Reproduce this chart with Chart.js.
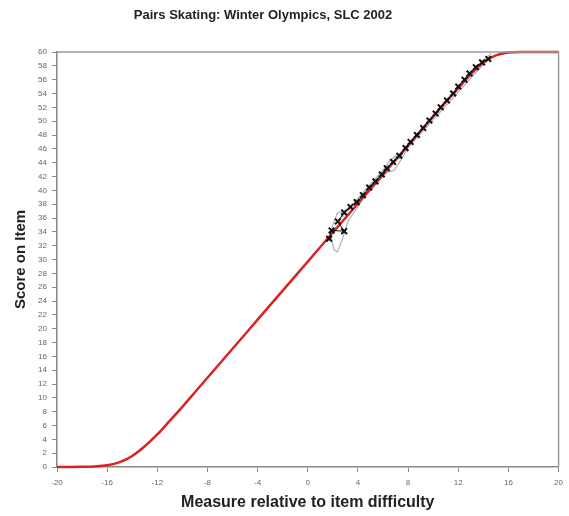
<!DOCTYPE html>
<html>
<head>
<meta charset="utf-8">
<script src="https://cdn.jsdelivr.net/npm/chart.js@4/dist/chart.umd.min.js"></script>
<style>
html,body{margin:0;padding:0;background:#fff;}
#wrap{width:569px;height:516px;position:relative;}
</style>
</head>
<body>
<div id="wrap"><canvas id="c" width="569" height="516"></canvas></div>
<script>
// ---- data ----
const chartTitle = "Pairs Skating: Winter Olympics, SLC 2002";
const xTitle = "Measure relative to item difficulty";
const yTitle = "Score on Item";

// expected score curve (red)
const curveX = [-20,-19,-18,-17,-16,-15,-14,-13,-12,-11,-10,-9,-8,-7,-6,-5,-4,-3,-2,-1,0,1,2,3,4,5,6,7,8,9,10,11,12,13,14,15,16,17,18,19,20];
const curveY = [0,0,0.02,0.08,0.25,0.7,1.6,3.0,4.7,6.7,8.7,10.8,12.9,15.0,17.1,19.2,21.3,23.4,25.5,27.6,29.7,31.8,33.9,36.0,38.1,40.2,42.3,44.4,46.5,48.6,50.7,52.8,54.8,56.8,58.5,59.5,59.92,60,60,60,60];

// observed scores (black crosses)
const obsX = [1.7,1.9,2.9,2.4,2.9,3.4,3.9,4.4,4.9,5.4,5.9,6.3,6.8,7.3,7.8,8.2,8.7,9.2,9.7,10.2,10.6,11.1,11.6,12.0,12.5,12.9,13.4,13.9,14.4];
const obsY = [33.0,34.2,34.1,35.5,36.8,37.6,38.3,39.3,40.4,41.3,42.3,43.2,44.1,45.0,46.1,47.0,48.0,49.0,50.1,51.1,52.0,53.0,54.0,55.0,56.0,56.9,57.8,58.5,59.0];

// confidence bounds (gray)
const upX = [1.9,2.35,2.66,2.74,3.5,4.5,6.0,6.5,7.0,7.3,8.0,14.6];
const upY = [34.5,36.7,36.9,36.1,37.8,39.9,42.9,44.2,45.0,44.6,46.6,59.8];
const loX = [1.87,2.1,2.35,2.74,3.2,4.5,6.3,6.9,7.3,8.0,14.6];
const loY = [33.1,31.4,31.1,32.8,35.5,39.0,42.6,42.9,44.0,46.2,59.4];

const xTicks = [-20,-16,-12,-8,-4,0,4,8,12,16,20];

const pts = (xs, ys) => xs.map((x, i) => ({x: x, y: ys[i]}));

const framePlugin = {
  id: 'frame',
  afterDatasetsDraw(chart) {
    const {ctx, chartArea: a} = chart;
    ctx.save();
    ctx.strokeStyle = '#9a9a9a';
    ctx.lineWidth = 1.5;
    ctx.beginPath();
    ctx.moveTo(a.left, a.top);
    ctx.lineTo(a.right, a.top);
    ctx.lineTo(a.right, a.bottom);
    ctx.stroke();
    ctx.restore();
  },
  afterDraw(chart) {
    const ctx = chart.ctx;
    ctx.save();
    ctx.fillStyle = '#222';
    ctx.font = 'bold 13px "Liberation Sans", Arial, sans-serif';
    ctx.textAlign = 'center';
    ctx.textBaseline = 'middle';
    ctx.fillText(chartTitle, 263, 15);
    ctx.restore();
  }
};

new Chart(document.getElementById('c'), {
  type: 'scatter',
  data: {
    datasets: [
      {
        label: 'Observed',
        data: pts(obsX, obsY),
        showLine: true,
        borderColor: '#111',
        borderWidth: 1,
        pointStyle: 'crossRot',
        pointRadius: 4,
        pointBorderWidth: 2,
        pointBorderColor: '#111',
        order: 0
      },
      {
        label: 'Expected',
        data: pts(curveX, curveY),
        showLine: true,
        borderColor: '#dd2222',
        borderWidth: 2.5,
        pointRadius: 0,
        cubicInterpolationMode: 'monotone',
        clip: 4,
        order: 1
      },
      {
        label: 'Upper',
        data: pts(upX, upY),
        showLine: true,
        borderColor: '#a8b0b8',
        borderWidth: 1.2,
        pointRadius: 0,
        order: 2
      },
      {
        label: 'Lower',
        data: pts(loX, loY),
        showLine: true,
        borderColor: '#a8b0b8',
        borderWidth: 1.2,
        pointRadius: 0,
        order: 2
      }
    ]
  },
  options: {
    responsive: false,
    animation: false,
    layout: { padding: { top: 52, right: 9, bottom: 0, left: 0 } },
    plugins: {
      legend: { display: false },
      tooltip: { enabled: false },
      title: { display: false }
    },
    scales: {
      x: {
        type: 'linear',
        min: -20, max: 20,
        afterBuildTicks(scale) { scale.ticks = xTicks.map(v => ({value: v})); },
        afterFit(scale) { scale.height = 49; },
        grid: { display: true, drawOnChartArea: false, drawTicks: true, tickLength: 5, color: '#888', lineWidth: 1 },
        border: { display: true, color: '#888', width: 1.5 },
        ticks: { font: { size: 8, family: '"Liberation Sans", Arial, sans-serif' }, color: '#666', padding: 6, maxRotation: 0 },
        title: { display: true, text: xTitle, color: '#222', font: { size: 16, weight: 'bold', family: '"Liberation Sans", Arial, sans-serif' }, padding: { top: 0, bottom: 4 } }
      },
      y: {
        type: 'linear',
        min: 0, max: 60,
        ticks: { stepSize: 2, autoSkip: false, font: { size: 8, family: '"Liberation Sans", Arial, sans-serif' }, color: '#666', padding: 5 },
        afterFit(scale) { scale.width = 57; },
        grid: { display: true, drawOnChartArea: false, drawTicks: true, tickLength: 5, color: '#888', lineWidth: 1 },
        border: { display: true, color: '#888', width: 1.5 },
        title: { display: true, text: yTitle, color: '#222', font: { size: 15, weight: 'bold', family: '"Liberation Sans", Arial, sans-serif' }, padding: { top: 12, bottom: 0 } }
      }
    }
  },
  plugins: [framePlugin]
});
</script>
</body>
</html>
